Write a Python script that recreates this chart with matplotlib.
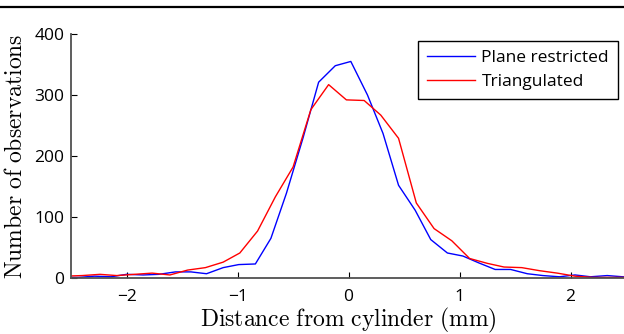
import matplotlib
matplotlib.use('Agg')
import matplotlib.pyplot as plt
from matplotlib.lines import Line2D

# Data
blue_x = [-2.57, -2.43, -2.29, -2.14, -2.00, -1.85, -1.71, -1.56, -1.42, -1.28,
          -1.13, -0.99, -0.84, -0.70, -0.56, -0.41, -0.27, -0.12, 0.02, 0.17,
          0.31, 0.45, 0.60, 0.74, 0.89, 1.03, 1.17, 1.32, 1.46, 1.61,
          1.75, 1.90, 2.04, 2.18, 2.33, 2.47, 2.62]
blue_y = [1, 1, 3, 2, 6, 5, 6, 10, 10, 7,
          17, 22, 23, 65, 139, 230, 321, 348, 355, 300,
          237, 152, 111, 63, 41, 36, 25, 14, 14, 7,
          4, 2, 5, 2, 4, 2, 2]

red_x = [-2.56, -2.40, -2.24, -2.09, -1.93, -1.77, -1.61, -1.45, -1.29, -1.13,
         -0.98, -0.82, -0.66, -0.50, -0.34, -0.18, -0.02, 0.14, 0.29, 0.45,
         0.61, 0.77, 0.93, 1.09, 1.25, 1.40, 1.56, 1.72, 1.88, 2.04,
         2.20, 2.36, 2.51]
red_y = [3, 4, 6, 4, 6, 8, 5, 13, 17, 26,
         41, 77, 133, 182, 276, 317, 292, 291, 267, 229,
         123, 81, 61, 32, 24, 18, 17, 12, 8, 3,
         1, 1, 1]

xticks = [-2, -1, 0, 1, 2]
yticks = [0, 100, 200, 300, 400]

plt.rcParams['mathtext.fontset'] = 'cm'
plt.rcParams['font.family'] = 'Open Sans'

fig = plt.figure(figsize=(6.24, 3.34), dpi=100)
ax = fig.add_axes([71.1 / 624, 56 / 334, 555 / 624, 244 / 334])

ax.plot(blue_x, blue_y, color='#0000ff', lw=1.0, label='Plane restricted')
ax.plot(red_x, red_y, color='#ff0000', lw=1.0, label='Triangulated')

ax.set_xlim(-2.5, 2.5)
ax.set_ylim(0, 400)
ax.set_xticks(xticks)
ax.set_yticks(yticks)
ax.set_xticklabels([str(t).replace('-', '\u2212') for t in xticks])

for s in ['top', 'right']:
    ax.spines[s].set_visible(False)
for s in ['left', 'bottom']:
    ax.spines[s].set_color('#505050')
    ax.spines[s].set_linewidth(1.3)
ax.tick_params(direction='in', length=4, width=0.8, labelsize=12.5, pad=5,
               colors='black')
ax.tick_params(axis='x', pad=8)

ax.set_xlabel(r'$\mathrm{Distance\ from\ cylinder\ (mm)}$', fontsize=17, labelpad=0.5)
ax.set_ylabel(r'$\mathrm{Number\ of\ observations}$', fontsize=17)
ax.yaxis.set_label_coords(-0.077, 0.50)

leg = ax.legend(loc='upper right', bbox_to_anchor=(0.985, 0.971),
                fontsize=12.5, fancybox=False, framealpha=1, edgecolor='black',
                handlelength=2.8, handletextpad=0.35, borderpad=0.5,
                labelspacing=0.45, borderaxespad=0)
leg.get_frame().set_linewidth(1.0)

# horizontal rule at the very top of the figure
fig.add_artist(Line2D([0, 1], [1 - 6.5 / 334, 1 - 6.5 / 334], color='black', lw=1.6))

fig.savefig('out.png', dpi=100)
